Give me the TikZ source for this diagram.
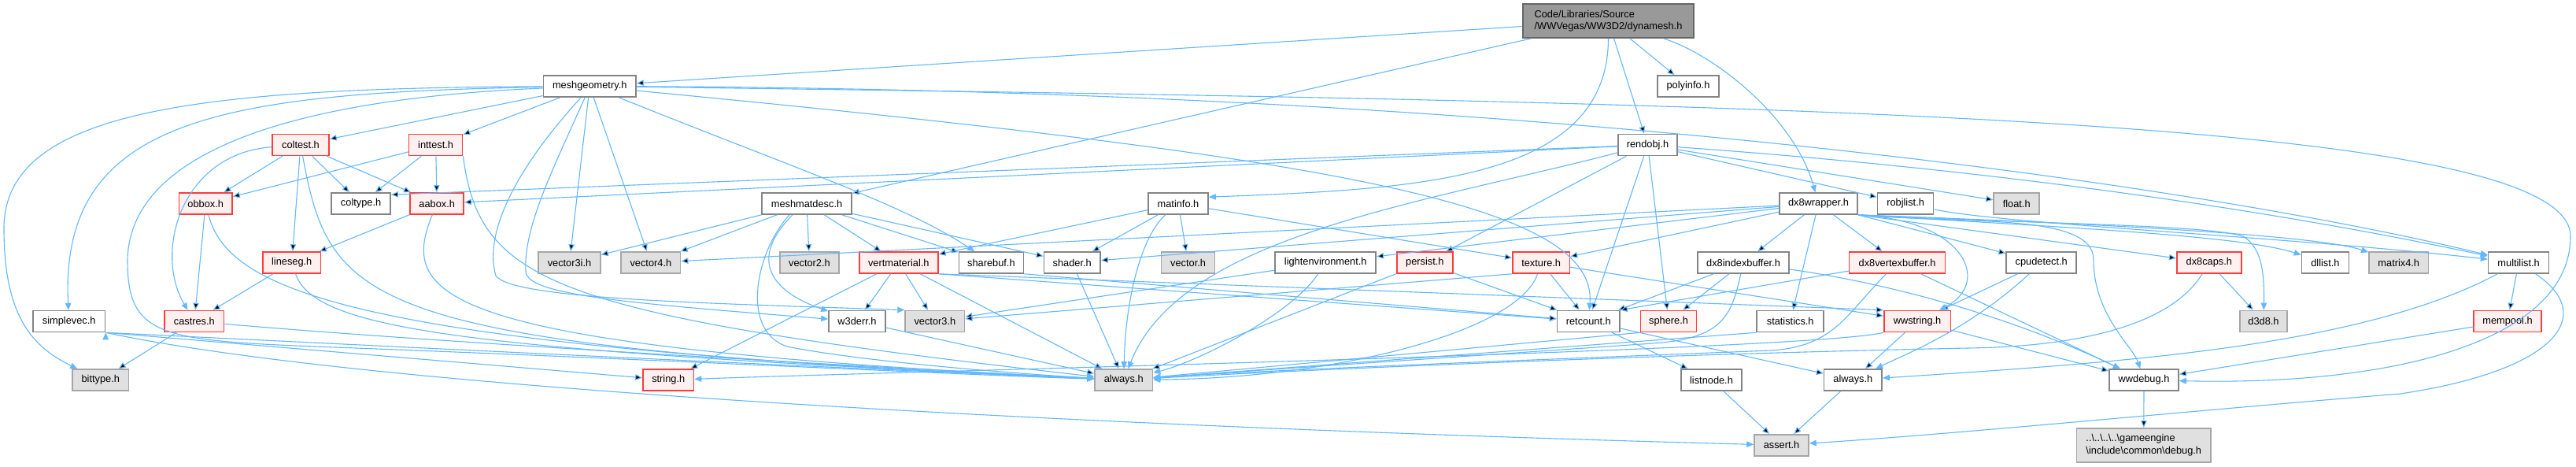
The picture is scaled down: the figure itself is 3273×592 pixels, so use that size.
\documentclass[tikz,border=0pt]{standalone}
\usepackage{fontspec}
\setmainfont{Liberation Sans}
\usepackage{xcolor}
\usepackage{tikz}
\usetikzlibrary{positioning, arrows.meta}

\definecolor{depblue}{HTML}{63B8FF}
\definecolor{docline}{HTML}{848484}
\definecolor{sysline}{HTML}{A6A6A6}
\definecolor{sysfill}{HTML}{E0E0E0}
\definecolor{redline}{HTML}{FF3B3B}
\definecolor{redfill}{HTML}{FFF0F0}
\definecolor{rootline}{HTML}{666666}
\definecolor{rootfill}{HTML}{999999}

\tikzset{
>={Triangle[length=9pt, width=7.5pt]}, % filled arrow heads like doxygen
every node/.style={font=\fontsize{12.8}{15.5}\selectfont, text=black, inner xsep=4pt, minimum height=27pt}, % all header boxes
docbox/.style={draw=docline, fill=white, line width=1.6pt}, % documented header
sysbox/.style={draw=sysline, fill=sysfill, line width=1.6pt}, % header without documentation
redbox/.style={draw=redline, fill=redfill, line width=1.6pt}, % header whose includes are cut off
rootbox/.style={draw=rootline, fill=rootfill, line width=1.6pt, align=left}, % the file of this graph
incl/.style={->, draw=depblue, line width=1.1pt}, % one #include
}

\begin{document}
\begin{tikzpicture}[x=1pt, y=1pt]
\fill[white] (0,0) rectangle (3273,-592);
\useasboundingbox (0,0) rectangle (3273,-592);

% row 0 and 1
\node[rootbox, minimum width=217pt, minimum height=43pt] (dynamesh) at (2043.5,-26.5) {Code/Libraries/Source\\/WWVegas/WW3D2/dynamesh.h};
\node[docbox, minimum width=117.5pt] (meshgeom) at (749.25,-109.5) {meshgeometry.h};
\node[docbox, minimum width=78pt] (polyinfo) at (2145,-109.5) {polyinfo.h};
% row 2
\node[redbox, minimum width=72pt] (coltest) at (382,-184) {coltest.h};
\node[redbox, minimum width=68pt, right=100pt of coltest] (inttest) {inttest.h};
\node[docbox, minimum width=75pt] (rendobj) at (2093.5,-184) {rendobj.h};
% row 3
\node[redbox, minimum width=67.5pt] (obbox) at (261.25,-258.5) {obbox.h};
\node[docbox, minimum width=75pt, right=124.5pt of obbox] (coltype) {coltype.h};
\node[redbox, minimum width=68pt, right=23.5pt of coltype] (aabox) {aabox.h};
\node[docbox, minimum width=114pt] (meshmat) at (1025,-258.5) {meshmatdesc.h};
\node[docbox, minimum width=76pt] (matinfo) at (1497,-258.5) {matinfo.h};
\node[docbox, minimum width=99pt] (dxwrap) at (2310.5,-258.5) {dx8wrapper.h};
\node[docbox, minimum width=71pt, right=24pt of dxwrap] (robjlist) {robjlist.h};
\node[sysbox, minimum width=58pt, right=75pt of robjlist] (floath) {float.h};
% row 4
\node[redbox, minimum width=73.5pt] (lineseg) at (370.75,-333.5) {lineseg.h};
\node[sysbox, minimum width=79pt] (vecthreei) at (723.5,-333.5) {vector3i.h};
\node[sysbox, minimum width=75.5pt, right=24.5pt of vecthreei] (vecfour) {vector4.h};
\node[sysbox, minimum width=75.5pt, right=124.5pt of vecfour] (vectwo) {vector2.h};
\node[redbox, minimum width=100pt, right=24pt of vectwo] (vertmat) {vertmaterial.h};
\node[docbox, minimum width=82pt, right=25pt of vertmat] (sharebuf) {sharebuf.h};
\node[docbox, minimum width=71.5pt, right=24.5pt of sharebuf] (shader) {shader.h};
\node[sysbox, minimum width=68pt, right=76pt of shader] (vector) {vector.h};
\node[docbox, minimum width=128pt, right=75pt of vector] (lightenv) {lightenvironment.h};
\node[redbox, minimum width=71pt, right=25pt of lightenv] (persist) {persist.h};
\node[redbox, minimum width=72.5pt, right=74.5pt of persist] (texture) {texture.h};
\node[docbox, minimum width=116pt] (dxindex) at (2215,-333.5) {dx8indexbuffer.h};
\node[redbox, minimum width=122pt, right=75pt of dxindex] (dxvertex) {dx8vertexbuffer.h};
\node[docbox, minimum width=89pt, right=76pt of dxvertex] (cpudetect) {cpudetect.h};
\node[redbox, minimum width=82pt, right=126pt of cpudetect] (dxcaps) {dx8caps.h};
\node[docbox, minimum width=60pt, right=75pt of dxcaps] (dllist) {dllist.h};
\node[sysbox, minimum width=75.5pt, right=24pt of dllist] (matrixfour) {matrix4.h};
\node[docbox, minimum width=77pt, right=74.5pt of matrixfour] (multilist) {multilist.h};
% row 5
\node[docbox, minimum width=91.5pt] (simplevec) at (87.75,-408) {simplevec.h};
\node[redbox, minimum width=75.5pt, right=74pt of simplevec] (castres) {castres.h};
\node[docbox, minimum width=72pt] (wderr) at (1089,-408) {w3derr.h};
\node[sysbox, minimum width=75.5pt, right=23.5pt of wderr] (vecthree) {vector3.h};
\node[docbox, minimum width=79.5pt] (refcount) at (2018.25,-408) {retcount.h};
\node[redbox, minimum width=71pt, right=25pt of refcount] (sphere) {sphere.h};
\node[docbox, minimum width=85pt, right=75pt of sphere] (statistics) {statistics.h};
\node[redbox, minimum width=84.5pt, right=75pt of statistics] (wwstring) {wwstring.h};
\node[sysbox, minimum width=60pt] (dddeight) at (2876,-408) {d3d8.h};
\node[redbox, minimum width=86pt] (mempool) at (3186,-408) {mempool.h};
% row 6 and 7
\node[sysbox, minimum width=71.5pt] (bittype) at (127.75,-482.5) {bittype.h};
\node[redbox, minimum width=64.5pt] (stringh) at (849.25,-482.5) {string.h};
\node[sysbox, minimum width=73.5pt] (alwaysA) at (1427.75,-482.5) {always.h};
\node[docbox, minimum width=77pt] (listnode) at (2174.5,-482.5) {listnode.h};
\node[docbox, minimum width=73.5pt, right=103pt of listnode] (alwaysB) {always.h};
\node[docbox, minimum width=88pt] (wwdebug) at (2724,-482.5) {wwdebug.h};
\node[sysbox, minimum width=69pt] (asserth) at (2263.5,-565.3) {assert.h};
\node[sysbox, minimum width=170.5pt, minimum height=43pt, align=left] (debugh) at (2723.75,-565.3) {..\textbackslash..\textbackslash..\textbackslash..\textbackslash gameengine\\\textbackslash include\textbackslash common\textbackslash debug.h};

\draw[incl]
(dynamesh) edge (meshgeom)
(dynamesh) edge (polyinfo)
(dynamesh) edge (rendobj)
(dynamesh) edge (meshmat)
(meshgeom) edge (coltest)
(meshgeom) edge (inttest)
(meshgeom) edge (vecthreei)
(meshgeom) edge (vecfour)
(coltest) edge (obbox)
(coltest) edge (coltype)
(coltest) edge (aabox)
(coltest) edge (lineseg)
(inttest) edge (obbox)
(inttest) edge (coltype)
(inttest) edge (aabox)
(obbox) edge (castres)
(aabox) edge (lineseg)
(lineseg) edge (castres)
(castres) edge (bittype)
(rendobj) edge ([yshift=-3pt]coltype.north east)
(rendobj) edge (aabox)
(rendobj) edge (persist)
(rendobj) edge (refcount)
(rendobj) edge (sphere)
(rendobj) edge (robjlist)
(rendobj) edge (floath)
(meshmat) edge (vecthreei)
(meshmat) edge (vecfour)
(meshmat) edge (vectwo)
(meshmat) edge (vertmat)
(meshmat) edge (sharebuf)
(meshmat) edge (shader)
(matinfo) edge (vector)
(matinfo) edge (shader)
(matinfo) edge (vertmat)
(matinfo) edge (texture)
(dxwrap) edge (vecfour)
(dxwrap) edge (shader)
(dxwrap) edge (lightenv)
(dxwrap) edge (texture)
(dxwrap) edge (dxindex)
(dxwrap) edge (dxvertex)
(dxwrap) edge (statistics)
(dxwrap.south east) edge (cpudetect)
(dxwrap.south east) edge (dxcaps)
(vertmat) edge (wderr)
(vertmat) edge (vecthree)
(vertmat) edge (stringh)
(vertmat) edge (alwaysA)
(vertmat.south east) edge (refcount)
(vertmat.south east) edge (wwstring.north west)
(sharebuf.south east) edge (refcount)
(shader) edge (alwaysA)
(wderr) edge (alwaysA)
(lightenv) edge (vecthree)
(texture.south west) edge (vecthree)
(texture) edge (refcount)
(texture) edge (wwstring)
(persist) edge (refcount)
(persist) edge (alwaysA)
(dxindex) edge (refcount)
(dxindex) edge (sphere)
(dxvertex) edge (refcount.north east)
(dxvertex) edge (wwdebug)
(cpudetect) edge (wwstring)
(dxcaps) edge (dddeight)
(sphere.south west) edge (alwaysA)
(statistics.south west) edge (alwaysA)
(refcount) edge (listnode)
(refcount) edge (alwaysB)
(wwstring) edge (alwaysB)
(wwstring) edge (wwdebug)
(multilist) edge (mempool)
(mempool) edge (wwdebug)
(listnode) edge (asserth)
(alwaysB) edge (asserth)
(wwdebug) edge (debugh)
(simplevec.south east) edge (stringh);

\draw[incl] (dynamesh) .. controls (2180,-70) and (2280,-150) .. (dxwrap);
\draw[incl] (dynamesh.south) .. controls (2043,-230) and (1800,-240) .. ([yshift=-6pt]matinfo.north east);
\draw[incl] (meshgeom) .. controls (250,-112) and (5,-140) .. (5,-290) .. controls (5,-400) and (40,-440) .. (bittype);
\draw[incl] (meshgeom) .. controls (280,-118) and (75,-150) .. (simplevec);
\draw[incl] (meshgeom) .. controls (380,-125) and (165,-190) .. (162,-330) .. controls (162,-425) and (200,-432) .. (400,-440) .. controls (800,-455) and (1200,-475) .. (alwaysA);
\draw[incl] ([xshift=-6pt]meshgeom.south) .. controls (700,-220) and (665,-290) .. (668,-345) .. controls (670,-375) and (800,-385) .. (wderr);
\draw[incl] ([xshift=-11pt]meshgeom.south) .. controls (650,-220) and (615,-300) .. (630,-350) .. controls (650,-380) and (900,-385) .. (vecthree.north west);
\draw[incl] ([xshift=37pt]meshgeom.south) .. controls (1000,-210) and (1150,-260) .. (sharebuf);
\draw[incl] (meshgeom) .. controls (1700,-200) and (2030,-260) .. (refcount);
\draw[incl] (meshgeom) .. controls (2100,-115) and (2900,-260) .. (multilist);
\draw[incl] (meshgeom) .. controls (2300,-130) and (3266,-150) .. (3266,-300) .. controls (3266,-430) and (3050,-490) .. (wwdebug);
\draw[incl] (coltest) .. controls (230,-195) and (195,-320) .. (castres);
\draw[incl] (coltest) .. controls (420,-390) and (460,-440) .. (alwaysA);
\draw[incl] (inttest.south east) .. controls (610,-360) and (700,-400) .. (alwaysA);
\draw[incl] (obbox) .. controls (290,-370) and (450,-440) .. (alwaysA);
\draw[incl] (aabox) .. controls (505,-380) and (560,-440) .. (alwaysA);
\draw[incl] (lineseg) .. controls (400,-420) and (600,-445) .. (alwaysA);
\draw[incl] (castres) .. controls (500,-430) and (900,-455) .. (alwaysA);
\draw[incl] (simplevec.south east) .. controls (500,-440) and (900,-460) .. (alwaysA);
\draw[incl] (simplevec.south east) .. controls (500,-500) and (1500,-545) .. (asserth);
\draw[incl] ([xshift=-18pt]meshmat.south) .. controls (950,-330) and (980,-370) .. (wderr);
\draw[incl] ([xshift=-22pt]meshmat.south) .. controls (960,-320) and (940,-420) .. (1000,-440) .. controls (1100,-460) and (1300,-475) .. (alwaysA);
\draw[incl] (matinfo) .. controls (1450,-300) and (1430,-380) .. (alwaysA);
\draw[incl] (rendobj) .. controls (1800,-260) and (1500,-300) .. (alwaysA);
\draw[incl] (rendobj) .. controls (2600,-220) and (2950,-280) .. (multilist);
\draw[incl] (robjlist) .. controls (2550,-285) and (2900,-300) .. (multilist);
\draw[incl] (lightenv) .. controls (1640,-400) and (1520,-460) .. (alwaysA);
\draw[incl] (texture) .. controls (1930,-420) and (1700,-480) .. (alwaysA);
\draw[incl] (dxindex) .. controls (2200,-400) and (2190,-430) .. (2100,-436) .. controls (1900,-450) and (1600,-470) .. (alwaysA);
\draw[incl] (dxvertex) .. controls (2345,-400) and (2330,-440) .. (2250,-445) .. controls (2000,-455) and (1600,-470) .. (alwaysA);
\draw[incl] (dxcaps) .. controls (2760,-410) and (2650,-440) .. (2500,-442) .. controls (2100,-450) and (1650,-470) .. (alwaysA);
\draw[incl] (dxindex) .. controls (2400,-360) and (2550,-400) .. (wwdebug);
\draw[incl] (dxwrap.south east) .. controls (2500,-280) and (2530,-360) .. (wwstring);
\draw[incl] (dxwrap.south east) .. controls (2600,-285) and (2800,-285) .. (2850,-300) .. controls (2875,-315) and (2877,-350) .. (dddeight);
\draw[incl] (dxwrap.south east) .. controls (2500,-285) and (2660,-270) .. (2660,-330) .. controls (2660,-400) and (2710,-440) .. (wwdebug);
\draw[incl] (dxwrap.south east) .. controls (2650,-290) and (2850,-300) .. (dllist);
\draw[incl] (dxwrap.south east) .. controls (2700,-285) and (2950,-300) .. (matrixfour);
\draw[incl] (cpudetect) .. controls (2500,-420) and (2420,-450) .. (alwaysB);
\draw[incl] (wwstring.south west) .. controls (2300,-445) and (1200,-470) .. (stringh);
\draw[incl] (multilist) .. controls (3000,-440) and (2700,-460) .. (alwaysB);
\draw[incl] (multilist) .. controls (3300,-400) and (3250,-470) .. (3050,-500) .. controls (2800,-520) and (2500,-550) .. (asserth);
\end{tikzpicture}
\end{document}
